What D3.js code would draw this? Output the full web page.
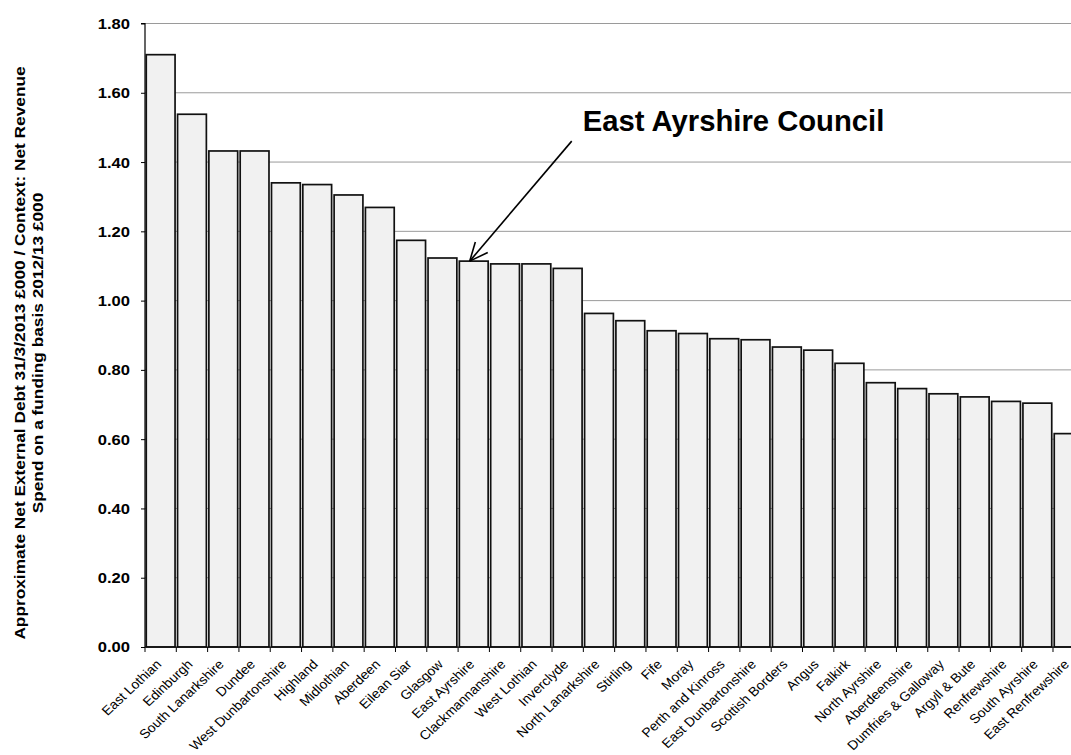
<!DOCTYPE html>
<html>
<head>
<meta charset="utf-8">
<script src="https://cdn.jsdelivr.net/npm/d3@7"></script>
<style>
  html, body { margin: 0; padding: 0; background: #fff; }
  svg { display: block; font-family: "Liberation Sans", Arial, sans-serif; }
</style>
</head>
<body>
<svg id="chart" width="1071" height="755"></svg>
<script>
const categories = [
  "East Lothian", "Edinburgh", "South Lanarkshire", "Dundee", "West Dunbartonshire",
  "Highland", "Midlothian", "Aberdeen", "Eilean Siar", "Glasgow",
  "East Ayrshire", "Clackmannanshire", "West Lothian", "Inverclyde", "North Lanarkshire",
  "Stirling", "Fife", "Moray", "Perth and Kinross", "East Dunbartonshire",
  "Scottish Borders", "Angus", "Falkirk", "North Ayrshire", "Aberdeenshire",
  "Dumfries & Galloway", "Argyll & Bute", "Renfrewshire", "South Ayrshire", "East Renfrewshire"
];
const values = [
  1.710, 1.538, 1.432, 1.432, 1.340,
  1.335, 1.305, 1.269, 1.174, 1.123,
  1.114, 1.106, 1.106, 1.093, 0.963,
  0.942, 0.913, 0.905, 0.890, 0.887,
  0.866, 0.857, 0.819, 0.763, 0.746,
  0.731, 0.722, 0.709, 0.704, 0.616
];
const yTicks = [0, 0.2, 0.4, 0.6, 0.8, 1.0, 1.2, 1.4, 1.6, 1.8];
const yTitleLines = [
  "Approximate Net External Debt 31/3/2013 £000 / Context: Net Revenue",
  "Spend on a funding basis 2012/13 £000"
];
const highlight = "East Ayrshire";
const annotationText = "East Ayrshire Council";

const svg = d3.select("#chart");
const mLeft = 145, mRight = 1084.3, mTop = 23.5, mBottom = 647;

const x = d3.scaleBand().domain(categories).range([mLeft, mRight])
  .paddingInner(0.08).paddingOuter(0.04);
const y = d3.scaleLinear().domain([0, 1.8]).range([mBottom, mTop]);
const step = x.step();

// gridlines
svg.append("g").selectAll("line").data(yTicks.filter(d => d > 0)).join("line")
  .attr("x1", mLeft).attr("x2", mRight)
  .attr("y1", d => y(d)).attr("y2", d => y(d))
  .attr("stroke", "#9a9a9a").attr("stroke-width", 1);

// bars
svg.append("g").selectAll("rect").data(categories).join("rect")
  .attr("x", d => x(d))
  .attr("y", (d, i) => y(values[i]))
  .attr("width", x.bandwidth())
  .attr("height", (d, i) => y(0) - y(values[i]))
  .attr("fill", "#f1f1f1")
  .attr("stroke", "#111")
  .attr("stroke-width", 1.7);

// y axis
const yAxis = d3.axisLeft(y).tickValues(yTicks).tickFormat(d3.format(".2f")).tickSize(4).tickPadding(11);
const gy = svg.append("g").attr("transform", `translate(${mLeft},0)`).call(yAxis);
gy.select(".domain").attr("stroke", "#000").attr("stroke-width", 1.2).attr("d", `M-4,${mTop}H0V${mBottom}`);
gy.selectAll(".tick line").attr("stroke", "#000");
gy.selectAll(".tick text")
  .attr("font-size", 15.5).attr("font-weight", "bold").attr("fill", "#000")
  .attr("font-family", "Liberation Sans, Arial, sans-serif")
  .attr("transform", function () {
    const tx = +d3.select(this).attr("x");
    return `translate(${tx},0) scale(1.07,1) translate(${-tx},0)`;
  });

// x axis line and ticks at band boundaries
svg.append("line").attr("x1", mLeft).attr("x2", mRight).attr("y1", mBottom).attr("y2", mBottom)
  .attr("stroke", "#000").attr("stroke-width", 1.2);
const boundaries = categories.map(c => x(c) - step * x.paddingInner() / 2);
svg.append("g").selectAll("line").data(boundaries).join("line")
  .attr("x1", d => d).attr("x2", d => d).attr("y1", mBottom).attr("y2", mBottom + 5)
  .attr("stroke", "#000").attr("stroke-width", 1);

// x labels
svg.append("g").selectAll("text").data(categories).join("text")
  .attr("transform", d => `translate(${x(d) + x.bandwidth() / 2 - 2},${mBottom + 15}) scale(1.07,1) rotate(-45)`)
  .attr("text-anchor", "end")
  .attr("dy", "0.35em")
  .attr("font-size", 13)
  .attr("fill", "#000")
  .text(d => d);

// y title
const yt = svg.append("text")
  .attr("transform", `translate(24.5,353) rotate(-90) scale(1.235,1)`)
  .attr("text-anchor", "middle")
  .attr("font-size", 14)
  .attr("font-weight", "bold")
  .attr("fill", "#000");
yTitleLines.forEach((t, i) => {
  yt.append("tspan").attr("x", 0).attr("dy", i === 0 ? 0 : 19).text(t);
});

// annotation
const hi = categories.indexOf(highlight);
const tipX = x(highlight) + x.bandwidth() * 0.36;
const tipY = y(values[hi]);
const tailX = tipX + 102, tailY = tipY - 120;
svg.append("line").attr("x1", tailX).attr("y1", tailY).attr("x2", tipX).attr("y2", tipY)
  .attr("stroke", "#000").attr("stroke-width", 1.6);
const ang = Math.atan2(tailY - tipY, tailX - tipX);
const headLen = 20, spread = 0.42;
[ang - spread, ang + spread].forEach(a => {
  svg.append("line").attr("x1", tipX).attr("y1", tipY)
    .attr("x2", tipX + headLen * Math.cos(a)).attr("y2", tipY + headLen * Math.sin(a))
    .attr("stroke", "#000").attr("stroke-width", 1.6);
});
const annX = tailX + 11, annY = tailY - 10;
svg.append("text")
  .attr("transform", `translate(${annX},${annY}) scale(0.975,1)`)
  .attr("font-size", 30).attr("font-weight", "bold").attr("fill", "#000")
  .text(annotationText);
</script>
</body>
</html>
